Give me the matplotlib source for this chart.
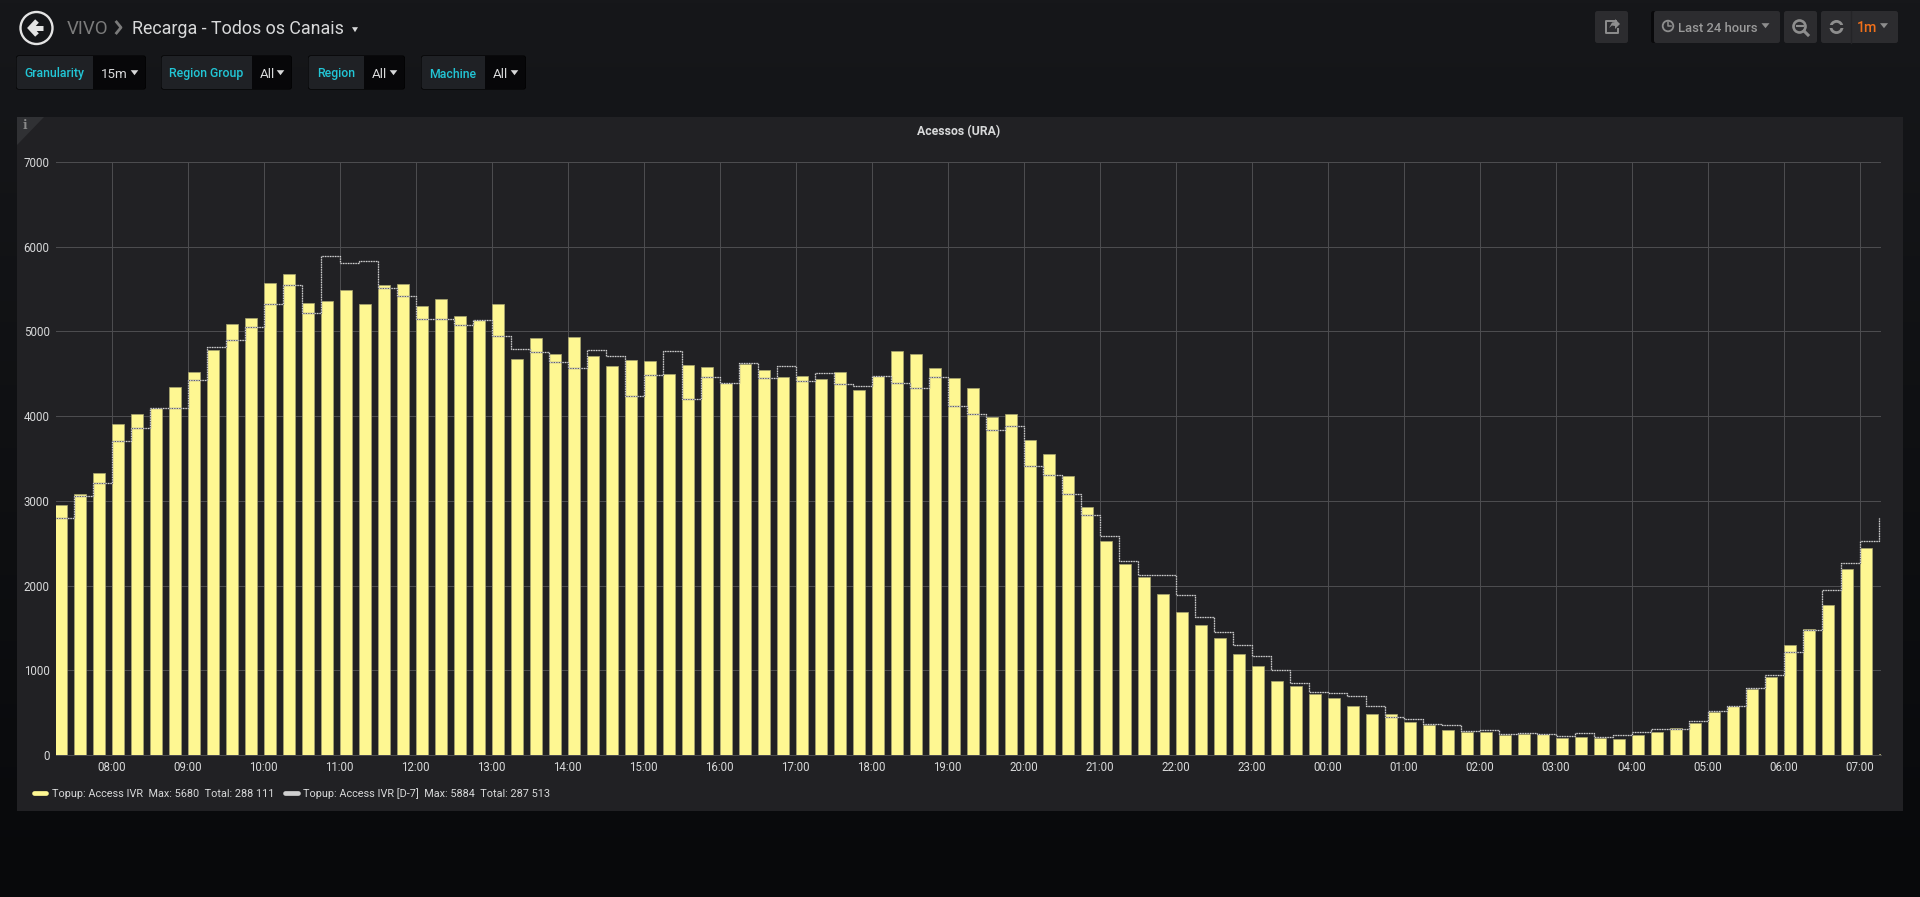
import matplotlib
matplotlib.use('Agg')
import matplotlib.dates as mdates
import matplotlib.pyplot as plt
import numpy as np
import pandas as pd
from matplotlib.lines import Line2D
from matplotlib.patches import Circle, FancyBboxPatch, Polygon, Rectangle

plt.rcParams['font.family'] = ['Roboto', 'DejaVu Sans']

W, H = 1920, 897

# last bar value is the unfinished 07:15 bucket
ACCESS_IVR = [2945, 3078, 3322, 3902, 4027, 4094, 4341, 4522, 4784, 5082, 5153, 5565,
              5680, 5337, 5361, 5486, 5318, 5545, 5561, 5302, 5376, 5176, 5133, 5322,
              4671, 4925, 4737, 4929, 4714, 4588, 4663, 4647, 4494, 4604, 4580, 4384,
              4612, 4541, 4459, 4478, 4435, 4522, 4310, 4475, 4765, 4729, 4565, 4443,
              4325, 3988, 4020, 3721, 3548, 3292, 2930, 2525, 2254, 2100, 1900, 1691,
              1530, 1381, 1188, 1050, 873, 818, 720, 673, 578, 488, 480, 385,
              354, 294, 275, 271, 239, 243, 243, 204, 212, 196, 188, 235,
              271, 318, 373, 506, 576, 784, 918, 1302, 1490, 1765, 2200, 2443,
              15]
ACCESS_IVR_D7 = [2796, 3051, 3204, 3706, 3863, 4094, 4098, 4420, 4820, 4898, 5051, 5325,
                 5541, 5212, 5884, 5804, 5824, 5506, 5416, 5145, 5145, 5071, 5133, 4945,
                 4788, 4753, 4635, 4565, 4784, 4714, 4231, 4486, 4769, 4200, 4455, 4388,
                 4631, 4443, 4596, 4408, 4510, 4373, 4353, 4471, 4392, 4329, 4463, 4118,
                 4020, 3831, 3886, 3414, 3300, 3076, 2832, 2588, 2285, 2128, 2124, 1884,
                 1624, 1455, 1298, 1168, 999, 846, 739, 735, 692, 582, 452, 425,
                 366, 357, 278, 290, 243, 255, 247, 227, 255, 208, 231, 267,
                 302, 306, 404, 518, 584, 796, 945, 1216, 1475, 1945, 2263, 2529,
                 2800]
Y_TICKS = [0, 1000, 2000, 3000, 4000, 5000, 6000, 7000]
LEGEND_LABELS = ['Topup: Access IVR  Max: 5680  Total: 288 111',
                 'Topup: Access IVR [D-7]  Max: 5884  Total: 287 513']
FILTERS = [('Granularity', '15m', 16, 93, 146),
           ('Region Group', 'All', 161, 252, 292),
           ('Region', 'All', 308, 364, 405),
           ('Machine', 'All', 421, 485, 526)]

BAR_COLOR = '#FEF792'
TEXT_COLOR = '#D8D9DA'
GRID_COLOR = '#4E4E51'
TEAL = '#22C6D6'
GREY_BTN = '#2C2C2F'

fig = plt.figure(figsize=(W / 100, H / 100), dpi=100)

# chrome layer works in screen pixels, y pointing down
bg = fig.add_axes([0, 0, 1, 1])
bg.set_xlim(0, W)
bg.set_ylim(H, 0)
bg.axis('off')
gradient = np.linspace(0, 1, 256).reshape(-1, 1)
top, bottom = np.array([22, 23, 26]), np.array([8, 9, 11])
bg.imshow((top + (bottom - top) * gradient[..., None]).astype(np.uint8) / 255,
          extent=(0, W, H, 0), aspect='auto', zorder=0)
bg.set_xlim(0, W)
bg.set_ylim(H, 0)


def box(x0, y0, x1, y1, color, zorder=1, rounded=True):
    style = 'round,pad=0,rounding_size=2.5' if rounded else 'square,pad=0'
    bg.add_patch(FancyBboxPatch((x0, y0), x1 - x0, y1 - y0, boxstyle=style,
                                fc=color, ec='none', zorder=zorder))


def caret(x, y, color, size=4.5):
    bg.add_patch(Polygon([(x - size, y - 2.3), (x + size, y - 2.3), (x, y + 2.7)],
                         fc=color, ec='none', zorder=5))


def label(x, y, text, color=TEXT_COLOR, size=9, ha='left', weight='normal', **kwargs):
    bg.text(x, y, text, color=color, fontsize=size, ha=ha, va='center_baseline',
            fontweight=weight, zorder=6, **kwargs)


# header
bg.add_patch(Circle((36.5, 28), 16, fc='none', ec='#E4E4E4', lw=1.7, zorder=5))
bg.plot([30, 43], [28, 28], color='#E4E4E4', lw=3.6, solid_capstyle='butt', zorder=5)
bg.plot([37, 30.5, 37], [21, 28, 35], color='#E4E4E4', lw=3.6,
        solid_capstyle='butt', solid_joinstyle='miter', zorder=5)
label(67, 27, 'VIVO', color='#7B7B7B', size=13.4)
bg.plot([116.5, 121, 116.5], [22, 27.5, 33], color='#7B7B7B', lw=2, zorder=5)
label(132, 27, 'Recarga - Todos os Canais', size=12.9)
caret(355, 29.5, TEXT_COLOR, size=3)

# template variables
for name, value, x0, split, x1 in FILTERS:
    box(x0, 55.5, x1, 89.5, '#000000', zorder=1)
    box(x0 + 0.5, 56, split + 3, 89, '#1F2125', zorder=2)
    box(split, 56, x1 - 0.5, 89, '#070709', zorder=3)
    bg.add_patch(Rectangle((split, 56), 4, 33, fc='#070709', ec='none', zorder=3))
    label((x0 + split) / 2, 72.5, name, color=TEAL, size=8.8, ha='center', weight='medium')
    label(split + 8, 73, value, size=9.6)
    caret(x1 - 11.5, 72.5, TEXT_COLOR, size=3.8)

# top right buttons
box(1595, 11, 1628, 43, GREY_BTN)
box(1651, 11, 1656, 43, '#09090B')
box(1654, 11, 1780, 43, GREY_BTN)
box(1784, 11, 1817, 43, GREY_BTN)
box(1821, 11, 1898, 43, GREY_BTN)
bg.plot([1851, 1851], [11, 43], color='#242427', lw=1, zorder=3)
ICON = '#8E8E8E'
bg.plot([1616, 1606, 1606, 1618, 1618], [21, 21, 33, 33, 29], color=ICON, lw=1.4, zorder=5)
bg.add_patch(Polygon([(1609, 28), (1612, 22.5), (1615, 22), (1615, 19), (1620, 24),
                      (1615, 29), (1615, 26), (1612, 25.5)], fc=ICON, ec='none', zorder=5))
bg.add_patch(Circle((1668, 26), 5.3, fc='none', ec=ICON, lw=1.3, zorder=5))
bg.plot([1668, 1668, 1671], [22.5, 26.5, 26.5], color=ICON, lw=1.1, zorder=5)
label(1677.5, 26.5, 'Last 24 hours', color='#9A9A9A', size=9.4, weight='medium')
caret(1765.5, 25.5, ICON, size=4)
bg.add_patch(Circle((1799.5, 26.5), 6, fc='none', ec=ICON, lw=1.9, zorder=5))
bg.plot([1796.5, 1802.5], [26.5, 26.5], color=ICON, lw=1.5, zorder=5)
bg.plot([1804, 1808], [31, 35], color=ICON, lw=2.2, zorder=5)
bg.add_patch(Circle((1836.5, 27), 5.6, fc='none', ec=ICON, lw=2, zorder=5))
bg.add_patch(Rectangle((1829, 25.5), 15, 3, fc=GREY_BTN, ec='none', zorder=5))
label(1857, 26.5, '1m', color='#F0701A', size=10.2, weight='medium')
caret(1884, 25.5, ICON, size=4)

# panel
bg.add_patch(Rectangle((17, 117), 1886, 694, fc='#212124', ec='none', zorder=1))
bg.add_patch(Polygon([(17, 117), (44, 117), (17, 145)], fc='#303134', ec='none', zorder=2))
bg.text(24.5, 125.5, 'i', color='#8A8A8A', fontsize=8.5, ha='center', va='center',
        family='DejaVu Serif', fontweight='bold', zorder=6)
label(959, 130, 'Acessos (URA)', size=8.8, ha='center', weight='bold')

# graph, positions
left, right, y_top, y_bot = 55.9, 1881.0, 161.8, 755.0
tick_8h = 111.7
ax = fig.add_axes([left / W, 1 - y_bot / H, (right - left) / W, (y_bot - y_top) / H])
ax.patch.set_alpha(0)

times = pd.date_range('2019-01-01 07:15', periods=len(ACCESS_IVR), freq='15min')
eight = pd.Timestamp('2019-01-01 08:00')
ax.set_xlim(eight - pd.Timedelta(hours=(tick_8h - left) / 76),
            eight + pd.Timedelta(hours=(right - tick_8h) / 76))
ax.set_ylim(0, 7000)

bar_width = 9.8 / (24 * 60)
ax.bar(times, ACCESS_IVR, width=bar_width, align='edge', color=BAR_COLOR,
       edgecolor='#A8A570', linewidth=0.5, zorder=3)
ax.step(times, ACCESS_IVR_D7, where='post', color='#5F5F62', lw=0.9, zorder=4)
ax.step(times, ACCESS_IVR_D7, where='post', color='#CFCFCF', lw=0.9,
        ls=(0, (1, 1)), zorder=5)

ax.xaxis.set_major_locator(mdates.HourLocator())
ax.xaxis.set_major_formatter(mdates.DateFormatter('%H:%M'))
ax.set_yticks(Y_TICKS)
ax.grid(True, color=GRID_COLOR, lw=0.7, zorder=0)
ax.set_axisbelow(True)
ax.tick_params(length=0, labelsize=8.3, labelcolor=TEXT_COLOR)
ax.tick_params(axis='x', pad=4.5)
ax.tick_params(axis='y', pad=4.5)
for spine in ax.spines.values():
    spine.set_visible(False)
ax.spines['bottom'].set_visible(True)
ax.spines['bottom'].set_color(GRID_COLOR)
ax.spines['bottom'].set_linewidth(0.7)

handles = [Line2D([], [], color=BAR_COLOR, lw=3.4, solid_capstyle='round'),
           Line2D([], [], color='#D0D0D0', lw=3.4, solid_capstyle='round')]
leg = ax.legend(handles, LEGEND_LABELS, ncol=2, frameon=False, fontsize=7.8,
                labelcolor=TEXT_COLOR, handlelength=1.15, handletextpad=0.5,
                columnspacing=1.0, borderpad=0, borderaxespad=0, loc='center left',
                bbox_to_anchor=((34 - left) / (right - left), (y_bot - 793.5) / (y_bot - y_top)))

fig.savefig('out.png', dpi=100, facecolor='#0B0C0E')
plt.close()
